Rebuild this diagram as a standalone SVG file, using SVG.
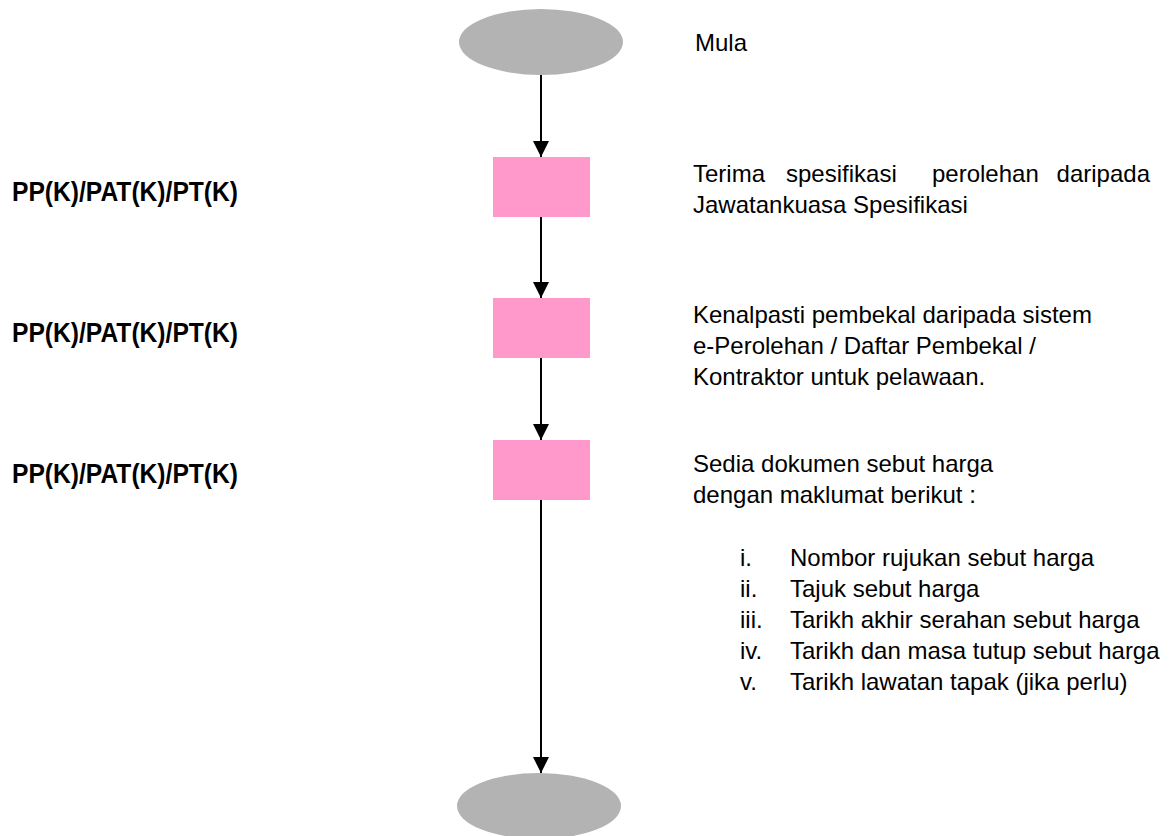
<svg xmlns="http://www.w3.org/2000/svg" width="1173" height="836" viewBox="0 0 1173 836">
  <style>
    .term { fill: #b3b3b3; }
    .proc { fill: #ff99cc; }
    .flow { stroke: #000; stroke-width: 2; fill: none; marker-end: url(#arrow); }
    .desc { font-family: "Liberation Sans", Arial, sans-serif; font-size: 24px; fill: #000; }
    .role { font-family: "Liberation Sans", Arial, sans-serif; font-size: 27px; font-weight: bold; fill: #000; }
  </style>
  <defs>
    <marker id="arrow" viewBox="0 0 16 16" refX="16" refY="8" markerWidth="16" markerHeight="16" markerUnits="userSpaceOnUse" orient="auto">
      <path d="M0,0 L16,8 L0,16 Z" fill="#000"/>
    </marker>
  </defs>
  <rect width="1173" height="836" fill="#fff"/>

  <!-- connectors -->
  <g id="connectors">
    <line class="flow" x1="541" y1="75" x2="541" y2="157"/>
    <line class="flow" x1="541" y1="217" x2="541" y2="298"/>
    <line class="flow" x1="541" y1="358" x2="541" y2="440"/>
    <line class="flow" x1="541" y1="500" x2="541" y2="773"/>
  </g>

  <g id="start">
    <ellipse class="term" cx="541" cy="42" rx="82" ry="33"/>
    <text class="desc" x="695" y="51">Mula</text>
  </g>

  <g id="step1">
    <rect class="proc" x="493" y="157" width="97" height="60"/>
    <text class="role" x="12" y="201" textLength="226" lengthAdjust="spacingAndGlyphs">PP(K)/PAT(K)/PT(K)</text>
    <text class="desc" y="182"><tspan x="693">Terima</tspan><tspan x="786">spesifikasi</tspan><tspan x="932">perolehan</tspan><tspan x="1150" text-anchor="end">daripada</tspan></text>
    <text class="desc" x="693" y="213">Jawatankuasa Spesifikasi</text>
  </g>

  <g id="step2">
    <rect class="proc" x="493" y="298" width="97" height="60"/>
    <text class="role" x="12" y="342" textLength="226" lengthAdjust="spacingAndGlyphs">PP(K)/PAT(K)/PT(K)</text>
    <text class="desc" x="693" y="323">Kenalpasti pembekal daripada sistem</text>
    <text class="desc" x="693" y="354">e-Perolehan / Daftar Pembekal /</text>
    <text class="desc" x="693" y="385">Kontraktor untuk pelawaan.</text>
  </g>

  <g id="step3">
    <rect class="proc" x="493" y="440" width="97" height="60"/>
    <text class="role" x="12" y="483" textLength="226" lengthAdjust="spacingAndGlyphs">PP(K)/PAT(K)/PT(K)</text>
    <text class="desc" x="693" y="472">Sedia dokumen sebut harga</text>
    <text class="desc" x="693" y="503">dengan maklumat berikut :</text>
    <text class="desc" x="740" y="566">i.</text>
    <text class="desc" x="790" y="566">Nombor rujukan sebut harga</text>
    <text class="desc" x="740" y="597">ii.</text>
    <text class="desc" x="790" y="597">Tajuk sebut harga</text>
    <text class="desc" x="740" y="628">iii.</text>
    <text class="desc" x="790" y="628">Tarikh akhir serahan sebut harga</text>
    <text class="desc" x="740" y="659">iv.</text>
    <text class="desc" x="790" y="659">Tarikh dan masa tutup sebut harga</text>
    <text class="desc" x="740" y="690">v.</text>
    <text class="desc" x="790" y="690">Tarikh lawatan tapak (jika perlu)</text>
  </g>

  <g id="end">
    <ellipse class="term" cx="539" cy="806" rx="82" ry="33"/>
  </g>
</svg>
